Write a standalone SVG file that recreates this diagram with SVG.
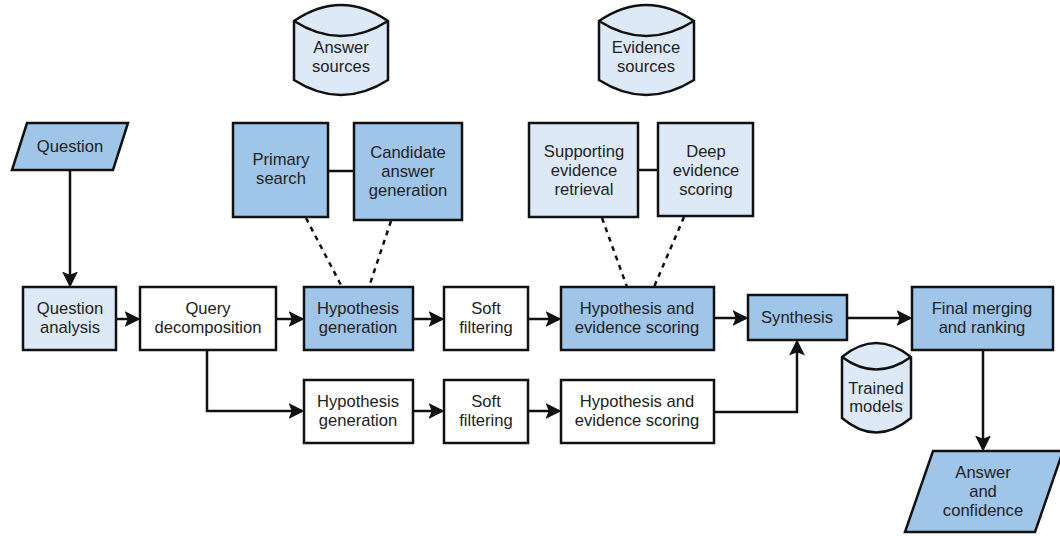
<svg xmlns="http://www.w3.org/2000/svg" width="1060" height="536" viewBox="0 0 1060 536">
<defs>
<style>
.dk{fill:#9fc5e8;stroke:#111;stroke-width:2.5}
.lt{fill:#dde9f6;stroke:#111;stroke-width:2.5}
.wh{fill:#fff;stroke:#111;stroke-width:2.5}
text{font-family:"Liberation Sans",Arial,sans-serif;font-size:16.6px;fill:#222;text-anchor:middle}
.ln{fill:none;stroke:#111;stroke-width:2.5}
.ar{fill:none;stroke:#111;stroke-width:2.5;marker-end:url(#ah)}
.ds{fill:none;stroke:#111;stroke-width:2.5;stroke-dasharray:5 5}
</style>
<marker id="ah" markerWidth="6.4" markerHeight="6.4" refX="5.4" refY="3.2" orient="auto" markerUnits="strokeWidth">
<path d="M0,0 L6.4,3.2 L0,6.4 L1.3,3.2 Z" fill="#111"/>
</marker>
</defs>
<rect width="1060" height="536" fill="#fff"/>
<g id="connectors">
<line class="ar" x1="70" y1="170" x2="70" y2="285"/>
<line class="ar" x1="116" y1="319" x2="138" y2="319"/>
<line class="ar" x1="276" y1="319" x2="302" y2="319"/>
<line class="ar" x1="413" y1="319" x2="442" y2="319"/>
<line class="ar" x1="528" y1="319" x2="559" y2="319"/>
<line class="ar" x1="714" y1="318" x2="746" y2="318"/>
<line class="ar" x1="847" y1="318" x2="910" y2="318"/>
<polyline class="ar" points="207,350 207,411 302,411"/>
<line class="ar" x1="413" y1="411" x2="442" y2="411"/>
<line class="ar" x1="528" y1="411" x2="559" y2="411"/>
<polyline class="ar" points="714,412 797,412 797,342"/>
<line class="ar" x1="983" y1="350" x2="983" y2="449"/>
<line class="ln" x1="328" y1="171" x2="354" y2="171"/>
<line class="ln" x1="638" y1="170" x2="658" y2="170"/>
<line class="ds" x1="306" y1="218" x2="342" y2="287"/>
<line class="ds" x1="391" y1="221" x2="369" y2="287"/>
<line class="ds" x1="602" y1="218" x2="627" y2="287"/>
<line class="ds" x1="684" y1="217" x2="654" y2="287"/>
</g>
<g id="question">
<polygon class="dk" points="27,123 128,123 113,170 12,170"/>
<text x="70" y="152">Question</text>
</g>
<g id="question-analysis">
<rect class="lt" x="23" y="287" width="93" height="63"/>
<text x="70" y="314">Question</text><text x="70" y="333">analysis</text>
</g>
<g id="query-decomposition">
<rect class="wh" x="140" y="287" width="136" height="63"/>
<text x="208" y="314">Query</text><text x="208" y="333">decomposition</text>
</g>
<g id="hypothesis-generation-1">
<rect class="dk" x="304" y="287" width="109" height="63"/>
<text x="358" y="314">Hypothesis</text><text x="358" y="333">generation</text>
</g>
<g id="soft-filtering-1">
<rect class="wh" x="444" y="287" width="84" height="63"/>
<text x="486" y="314">Soft</text><text x="486" y="333">filtering</text>
</g>
<g id="hyp-evidence-scoring-1">
<rect class="dk" x="561" y="287" width="153" height="63"/>
<text x="637" y="314">Hypothesis and</text><text x="637" y="333">evidence scoring</text>
</g>
<g id="hypothesis-generation-2">
<rect class="wh" x="304" y="380" width="109" height="63"/>
<text x="358" y="407">Hypothesis</text><text x="358" y="426">generation</text>
</g>
<g id="soft-filtering-2">
<rect class="wh" x="444" y="380" width="84" height="63"/>
<text x="486" y="407">Soft</text><text x="486" y="426">filtering</text>
</g>
<g id="hyp-evidence-scoring-2">
<rect class="wh" x="561" y="380" width="153" height="63"/>
<text x="637" y="407">Hypothesis and</text><text x="637" y="426">evidence scoring</text>
</g>
<g id="synthesis">
<rect class="dk" x="748" y="295" width="99" height="45"/>
<text x="797" y="323">Synthesis</text>
</g>
<g id="final-merging">
<rect class="dk" x="912" y="287" width="141" height="63"/>
<text x="982" y="314">Final merging</text><text x="982" y="333">and ranking</text>
</g>
<g id="answer-confidence">
<polygon class="dk" points="933,451 1063,451 1035,532 905,532"/>
<text x="983" y="478">Answer</text><text x="983" y="497">and</text><text x="983" y="516">confidence</text>
</g>
<g id="primary-search">
<rect class="dk" x="233" y="123" width="95" height="94"/>
<text x="281" y="165">Primary</text><text x="281" y="184">search</text>
</g>
<g id="candidate-answer-generation">
<rect class="dk" x="354" y="123" width="108" height="97"/>
<text x="408" y="158">Candidate</text><text x="408" y="177">answer</text><text x="408" y="196">generation</text>
</g>
<g id="supporting-evidence-retrieval">
<rect class="lt" x="529" y="123" width="109" height="94"/>
<text x="584" y="157">Supporting</text><text x="584" y="176">evidence</text><text x="584" y="195">retrieval</text>
</g>
<g id="deep-evidence-scoring">
<rect class="lt" x="658" y="123" width="95" height="93"/>
<text x="706" y="157">Deep</text><text x="706" y="176">evidence</text><text x="706" y="195">scoring</text>
</g>
<g id="answer-sources">
<path class="lt" d="M294,21 Q341,-11 388,21 L388,80 Q341,110 294,80 Z"/>
<path class="ln" d="M294,21 Q341,51 388,21"/>
<text x="341" y="53">Answer</text><text x="341" y="72">sources</text>
</g>
<g id="evidence-sources">
<path class="lt" d="M599,21 Q646,-11 694,21 L694,80 Q646,110 599,80 Z"/>
<path class="ln" d="M599,21 Q646,51 694,21"/>
<text x="646" y="53">Evidence</text><text x="646" y="72">sources</text>
</g>
<g id="trained-models">
<path class="lt" d="M842,357 Q876,329 911,357 L911,418 Q876,447 842,418 Z"/>
<path class="ln" d="M842,357 Q876,382 911,357"/>
<text x="876" y="394">Trained</text><text x="876" y="412">models</text>
</g>
</svg>
